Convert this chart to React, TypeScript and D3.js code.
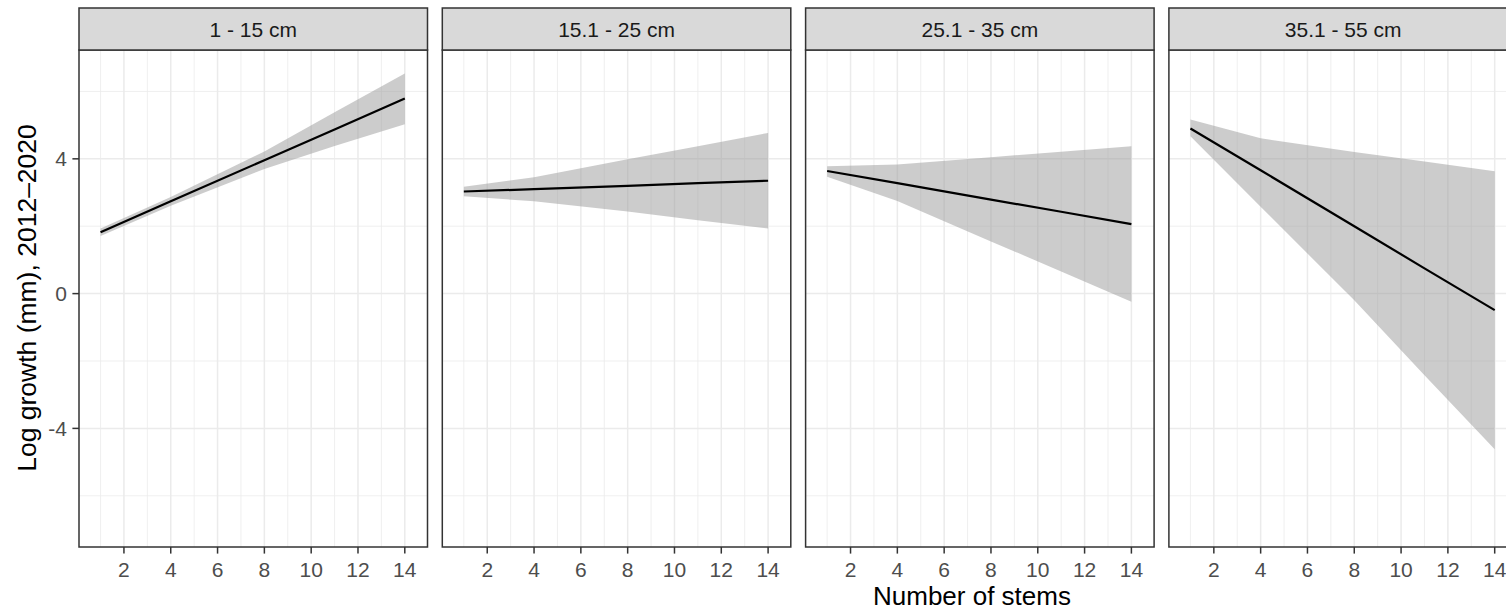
import React, { useEffect, useRef } from 'react';
import * as d3 from 'd3';

// facet labels (diameter classes)
const panels = ['1 - 15 cm', '15.1 - 25 cm', '25.1 - 35 cm', '35.1 - 55 cm'];

const stems = [1, 4, 8, 11, 14];

// fitted line per panel
const fitValues = [
  [1.82, 2.74, 3.96, 4.87, 5.79],
  [3.03, 3.10, 3.20, 3.28, 3.35],
  [3.64, 3.28, 2.79, 2.43, 2.06],
  [4.90, 3.66, 2.00, 0.75, -0.49],
];

// upper confidence bound per panel
const upperValues = [
  [1.93, 2.87, 4.22, 5.38, 6.53],
  [3.17, 3.45, 3.99, 4.37, 4.77],
  [3.78, 3.83, 4.05, 4.21, 4.37],
  [5.17, 4.61, 4.20, 3.92, 3.63],
];

// lower confidence bound per panel
const lowerValues = [
  [1.71, 2.61, 3.70, 4.38, 5.03],
  [2.89, 2.74, 2.44, 2.18, 1.93],
  [3.47, 2.75, 1.55, 0.66, -0.24],
  [4.67, 2.58, -0.20, -2.42, -4.62],
];

const xTicks = [2, 4, 6, 8, 10, 12, 14];
const xMinor = [1, 3, 5, 7, 9, 11, 13];
const yTicks = [-4, 0, 4];
const yMinor = [-6, -2, 2, 6];

const xTitle = 'Number of stems';
const yTitle = 'Log growth (mm), 2012\u20132020';

function App() {
  const ref = useRef<SVGSVGElement>(null);

  useEffect(() => {
    const svg = d3.select(ref.current);
    svg.selectAll('*').remove();

    const font = '"Liberation Sans", Arial, Helvetica, sans-serif';
    const firstLeft = 79;
    const step = 363.3;
    const pw = 348.5;
    const stripTop = 8;
    const panelTop = 50;
    const panelBottom = 547;

    const y = d3.scaleLinear().domain([-7.52, 7.23]).range([panelBottom, panelTop]);

    panels.forEach((label, p) => {
      const left = firstLeft + p * step;
      const x = d3.scaleLinear().domain([0.08, 14.97]).range([left, left + pw]);
      const g = svg.append('g');

      g.append('rect')
        .attr('x', left).attr('y', panelTop)
        .attr('width', pw).attr('height', panelBottom - panelTop)
        .attr('fill', '#fff');

      // minor grid
      g.selectAll('.vminor').data(xMinor).join('line')
        .attr('x1', d => x(d)).attr('x2', d => x(d))
        .attr('y1', panelTop).attr('y2', panelBottom)
        .attr('stroke', '#ebebeb').attr('stroke-width', 0.8);
      g.selectAll('.hminor').data(yMinor).join('line')
        .attr('x1', left).attr('x2', left + pw)
        .attr('y1', d => y(d)).attr('y2', d => y(d))
        .attr('stroke', '#ebebeb').attr('stroke-width', 0.8);

      // major grid
      g.selectAll('.vmajor').data(xTicks).join('line')
        .attr('x1', d => x(d)).attr('x2', d => x(d))
        .attr('y1', panelTop).attr('y2', panelBottom)
        .attr('stroke', '#ebebeb').attr('stroke-width', 1.5);
      g.selectAll('.hmajor').data(yTicks).join('line')
        .attr('x1', left).attr('x2', left + pw)
        .attr('y1', d => y(d)).attr('y2', d => y(d))
        .attr('stroke', '#ebebeb').attr('stroke-width', 1.5);

      const rows = stems.map((s, i) => ({
        s, fit: fitValues[p][i], lo: lowerValues[p][i], hi: upperValues[p][i],
      }));

      const area = d3.area<any>()
        .x(d => x(d.s))
        .y0(d => y(d.lo))
        .y1(d => y(d.hi));
      g.append('path')
        .attr('d', area(rows))
        .attr('fill', '#999999')
        .attr('fill-opacity', 0.5);

      const line = d3.line<any>().x(d => x(d.s)).y(d => y(d.fit));
      g.append('path')
        .attr('d', line(rows))
        .attr('fill', 'none')
        .attr('stroke', '#000')
        .attr('stroke-width', 2.2);

      // panel border
      g.append('rect')
        .attr('x', left).attr('y', panelTop)
        .attr('width', pw).attr('height', panelBottom - panelTop)
        .attr('fill', 'none').attr('stroke', '#333').attr('stroke-width', 1.5);

      // strip
      g.append('rect')
        .attr('x', left).attr('y', stripTop)
        .attr('width', pw).attr('height', panelTop - stripTop)
        .attr('fill', '#d9d9d9').attr('stroke', '#333').attr('stroke-width', 1.5);
      g.append('text')
        .attr('x', left + pw / 2).attr('y', 37)
        .attr('text-anchor', 'middle')
        .style('font-family', font).style('font-size', '21px')
        .style('fill', '#1a1a1a')
        .text(label);

      // x axis ticks
      g.selectAll('.xtick').data(xTicks).join('line')
        .attr('x1', d => x(d)).attr('x2', d => x(d))
        .attr('y1', panelBottom).attr('y2', panelBottom + 6.6)
        .attr('stroke', '#333').attr('stroke-width', 1.5);
      g.selectAll('.xlab').data(xTicks).join('text')
        .attr('x', d => x(d)).attr('y', 577)
        .attr('text-anchor', 'middle')
        .style('font-family', font).style('font-size', '21px')
        .style('fill', '#4d4d4d')
        .text(d => d);

      if (p === 0) {
        g.selectAll('.ytick').data(yTicks).join('line')
          .attr('x1', left - 6.6).attr('x2', left)
          .attr('y1', d => y(d)).attr('y2', d => y(d))
          .attr('stroke', '#333').attr('stroke-width', 1.5);
        g.selectAll('.ylab').data(yTicks).join('text')
          .attr('x', left - 12).attr('y', d => y(d) + 7.5)
          .attr('text-anchor', 'end')
          .style('font-family', font).style('font-size', '21px')
          .style('fill', '#4d4d4d')
          .text(d => String(d));
      }
    });

    svg.append('text')
      .attr('x', 972).attr('y', 605)
      .attr('text-anchor', 'middle')
      .style('font-family', font).style('font-size', '26px')
      .style('fill', '#000')
      .text(xTitle);

    svg.append('text')
      .attr('transform', 'translate(36,298) rotate(-90)')
      .attr('text-anchor', 'middle')
      .style('font-family', font).style('font-size', '26.5px')
      .style('fill', '#000')
      .text(yTitle);
  }, []);

  return (
    <svg
      ref={ref}
      width={1506}
      height={612}
      style={{ position: 'absolute', left: 0, top: 0, background: '#fff' }}
    />
  );
}

export default App;
